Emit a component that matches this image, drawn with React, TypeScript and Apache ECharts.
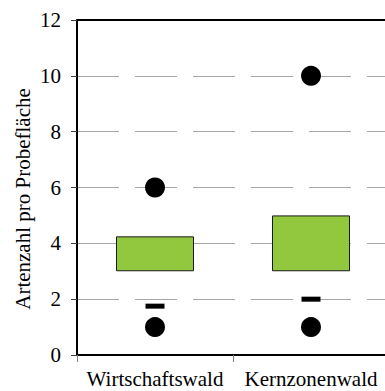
import React, { useEffect, useRef } from "react";
import * as echarts from "echarts";

const categories = ["Wirtschaftswald", "Kernzonenwald"];
const boxLow = [3, 3];
const boxHigh = [4.25, 5];
const dashValues = [1.75, 2];
const upperPoints = [6, 10];
const lowerPoints = [1, 1];
const yTicks = [0, 2, 4, 6, 8, 10, 12];
const yTitle = "Artenzahl pro Probefläche";

const FONT = "Liberation Serif";

export default function App() {
  const ref = useRef<HTMLDivElement>(null);
  useEffect(() => {
    if (!ref.current) return;
    const chart = echarts.init(ref.current, undefined, { renderer: "svg" });
    chart.setOption({
      animation: false,
      backgroundColor: "#ffffff",
      textStyle: { fontFamily: FONT },
      grid: {
        left: 77,
        top: 20,
        bottom: 36,
        right: -4,
        outerBoundsMode: "none",
        containLabel: false,
      },
      xAxis: [
        {
          type: "category",
          data: categories,
          boundaryGap: true,
          axisLine: { show: true, lineStyle: { color: "#000", width: 2 } },
          axisTick: { show: true, length: 7, interval: 0, lineStyle: { color: "#808080", width: 1 } },
          axisLabel: { color: "#000", fontFamily: FONT, fontSize: 21, margin: 13, interval: 0 },
          splitLine: { show: false },
        },
        {
          type: "category",
          position: "top",
          data: categories,
          axisLine: { show: true, lineStyle: { color: "#000", width: 2 } },
          axisTick: { show: false },
          axisLabel: { show: false },
          splitLine: { show: false },
        },
      ],
      yAxis: {
        type: "value",
        min: yTicks[0],
        max: yTicks[yTicks.length - 1],
        interval: 2,
        axisLine: { show: true, lineStyle: { color: "#000", width: 2 } },
        axisTick: { show: true, length: 6, lineStyle: { color: "#404040", width: 1 } },
        axisLabel: { color: "#000", fontFamily: FONT, fontSize: 21, margin: 16 },
        splitLine: {
          show: true,
          showMinLine: false,
          showMaxLine: false,
          lineStyle: { color: "#a6a6a6", width: 1, type: [42, 16] },
        },
      },
      graphic: [
        {
          type: "text",
          x: 23,
          y: 199,
          rotation: Math.PI / 2,
          style: {
            text: yTitle,
            fill: "#000",
            fontFamily: FONT,
            fontSize: 21,
            align: "center",
            verticalAlign: "middle",
          },
        },
      ],
      series: [
        {
          type: "bar",
          stack: "box",
          data: boxLow,
          barWidth: "50%",
          itemStyle: { color: "transparent" },
          silent: true,
        },
        {
          type: "bar",
          stack: "box",
          data: boxHigh.map((v, i) => v - boxLow[i]),
          barWidth: "50%",
          itemStyle: { color: "#92c83e", borderColor: "#1a1a1a", borderWidth: 1 },
        },
        {
          type: "scatter",
          data: dashValues,
          symbol: "rect",
          symbolSize: [19, 5],
          itemStyle: { color: "#000", opacity: 1 },
          z: 3,
        },
        {
          type: "scatter",
          data: upperPoints,
          symbol: "circle",
          symbolSize: 20,
          itemStyle: { color: "#000", opacity: 1 },
          z: 3,
        },
        {
          type: "scatter",
          data: lowerPoints,
          symbol: "circle",
          symbolSize: 20,
          itemStyle: { color: "#000", opacity: 1 },
          z: 3,
        },
      ],
    });
    return () => chart.dispose();
  }, []);
  return (
    <div
      ref={ref}
      style={{ position: "fixed", left: 0, top: 0, width: 385, height: 391 }}
    />
  );
}
